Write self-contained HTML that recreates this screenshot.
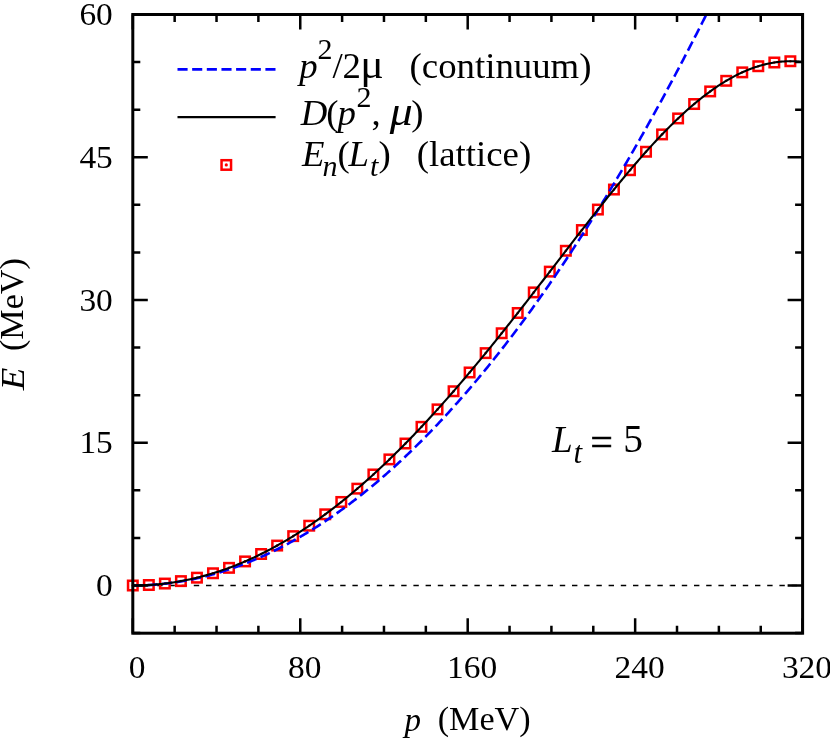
<!DOCTYPE html>
<html><head><meta charset="utf-8"><title>chart</title><style>html,body{margin:0;padding:0;background:#fff}svg{display:block;will-change:transform}</style></head><body>
<svg width="830" height="738" viewBox="0 0 830 738">
<rect x="0" y="0" width="830" height="738" fill="#fff"/>
<defs><clipPath id="cp"><rect x="132.80" y="14.50" width="669.80" height="618.70"/></clipPath></defs>
<line x1="132.80" y1="585.50" x2="802.60" y2="585.50" stroke="#000" stroke-width="1.3" stroke-dasharray="5.4 6.8"/>
<g fill="none" stroke="#f00" stroke-width="2.5"><rect x="128.05" y="580.75" width="9.5" height="9.5"/><rect x="144.09" y="580.26" width="9.5" height="9.5"/><rect x="160.13" y="578.80" width="9.5" height="9.5"/><rect x="176.17" y="576.36" width="9.5" height="9.5"/><rect x="192.20" y="572.93" width="9.5" height="9.5"/><rect x="208.24" y="568.51" width="9.5" height="9.5"/><rect x="224.28" y="563.09" width="9.5" height="9.5"/><rect x="240.32" y="556.67" width="9.5" height="9.5"/><rect x="256.36" y="549.25" width="9.5" height="9.5"/><rect x="272.40" y="540.81" width="9.5" height="9.5"/><rect x="288.43" y="531.38" width="9.5" height="9.5"/><rect x="304.47" y="520.96" width="9.5" height="9.5"/><rect x="320.51" y="509.56" width="9.5" height="9.5"/><rect x="336.55" y="497.20" width="9.5" height="9.5"/><rect x="352.59" y="483.91" width="9.5" height="9.5"/><rect x="368.63" y="469.72" width="9.5" height="9.5"/><rect x="384.66" y="454.66" width="9.5" height="9.5"/><rect x="400.70" y="438.76" width="9.5" height="9.5"/><rect x="416.74" y="422.07" width="9.5" height="9.5"/><rect x="432.78" y="404.63" width="9.5" height="9.5"/><rect x="448.82" y="386.50" width="9.5" height="9.5"/><rect x="464.86" y="367.72" width="9.5" height="9.5"/><rect x="480.89" y="348.37" width="9.5" height="9.5"/><rect x="496.93" y="328.51" width="9.5" height="9.5"/><rect x="512.97" y="308.24" width="9.5" height="9.5"/><rect x="529.01" y="287.66" width="9.5" height="9.5"/><rect x="545.05" y="266.88" width="9.5" height="9.5"/><rect x="561.09" y="246.03" width="9.5" height="9.5"/><rect x="577.13" y="225.29" width="9.5" height="9.5"/><rect x="593.16" y="204.81" width="9.5" height="9.5"/><rect x="609.20" y="184.80" width="9.5" height="9.5"/><rect x="625.24" y="165.45" width="9.5" height="9.5"/><rect x="641.28" y="147.00" width="9.5" height="9.5"/><rect x="657.32" y="129.67" width="9.5" height="9.5"/><rect x="673.36" y="113.69" width="9.5" height="9.5"/><rect x="689.39" y="99.28" width="9.5" height="9.5"/><rect x="705.43" y="86.67" width="9.5" height="9.5"/><rect x="721.47" y="76.06" width="9.5" height="9.5"/><rect x="737.51" y="67.61" width="9.5" height="9.5"/><rect x="753.55" y="61.47" width="9.5" height="9.5"/><rect x="769.59" y="57.74" width="9.5" height="9.5"/><rect x="785.62" y="56.49" width="9.5" height="9.5"/></g>
<g fill="#f00"><circle cx="132.80" cy="585.50" r="1.3"/><circle cx="148.84" cy="585.01" r="1.3"/><circle cx="164.88" cy="583.55" r="1.3"/><circle cx="180.92" cy="581.11" r="1.3"/><circle cx="196.95" cy="577.68" r="1.3"/><circle cx="212.99" cy="573.26" r="1.3"/><circle cx="229.03" cy="567.84" r="1.3"/><circle cx="245.07" cy="561.42" r="1.3"/><circle cx="261.11" cy="554.00" r="1.3"/><circle cx="277.15" cy="545.56" r="1.3"/><circle cx="293.18" cy="536.13" r="1.3"/><circle cx="309.22" cy="525.71" r="1.3"/><circle cx="325.26" cy="514.31" r="1.3"/><circle cx="341.30" cy="501.95" r="1.3"/><circle cx="357.34" cy="488.66" r="1.3"/><circle cx="373.38" cy="474.47" r="1.3"/><circle cx="389.41" cy="459.41" r="1.3"/><circle cx="405.45" cy="443.51" r="1.3"/><circle cx="421.49" cy="426.82" r="1.3"/><circle cx="437.53" cy="409.38" r="1.3"/><circle cx="453.57" cy="391.25" r="1.3"/><circle cx="469.61" cy="372.47" r="1.3"/><circle cx="485.64" cy="353.12" r="1.3"/><circle cx="501.68" cy="333.26" r="1.3"/><circle cx="517.72" cy="312.99" r="1.3"/><circle cx="533.76" cy="292.41" r="1.3"/><circle cx="549.80" cy="271.63" r="1.3"/><circle cx="565.84" cy="250.78" r="1.3"/><circle cx="581.88" cy="230.04" r="1.3"/><circle cx="597.91" cy="209.56" r="1.3"/><circle cx="613.95" cy="189.55" r="1.3"/><circle cx="629.99" cy="170.20" r="1.3"/><circle cx="646.03" cy="151.75" r="1.3"/><circle cx="662.07" cy="134.42" r="1.3"/><circle cx="678.11" cy="118.44" r="1.3"/><circle cx="694.14" cy="104.03" r="1.3"/><circle cx="710.18" cy="91.42" r="1.3"/><circle cx="726.22" cy="80.81" r="1.3"/><circle cx="742.26" cy="72.36" r="1.3"/><circle cx="758.30" cy="66.22" r="1.3"/><circle cx="774.34" cy="62.49" r="1.3"/><circle cx="790.37" cy="61.24" r="1.3"/></g>
<path d="M132.80 585.50 L134.30 585.50 L135.79 585.48 L137.29 585.47 L138.78 585.44 L140.28 585.40 L141.77 585.36 L143.27 585.31 L144.76 585.25 L146.26 585.19 L147.75 585.11 L149.25 585.03 L150.74 584.94 L152.24 584.84 L153.73 584.74 L155.23 584.63 L156.72 584.51 L158.22 584.38 L159.71 584.24 L161.21 584.10 L162.70 583.95 L164.20 583.79 L165.69 583.62 L167.19 583.45 L168.68 583.27 L170.18 583.07 L171.67 582.88 L173.17 582.67 L174.66 582.46 L176.16 582.24 L177.65 582.01 L179.15 581.77 L180.64 581.53 L182.14 581.27 L183.63 581.01 L185.13 580.75 L186.62 580.47 L188.12 580.19 L189.61 579.90 L191.11 579.60 L192.60 579.29 L194.10 578.98 L195.59 578.66 L197.09 578.33 L198.58 577.99 L200.08 577.64 L201.57 577.29 L203.07 576.93 L204.56 576.56 L206.06 576.18 L207.55 575.80 L209.05 575.41 L210.54 575.01 L212.04 574.60 L213.53 574.19 L215.03 573.76 L216.53 573.33 L218.02 572.89 L219.52 572.45 L221.01 571.99 L222.51 571.53 L224.00 571.06 L225.50 570.59 L226.99 570.10 L228.49 569.61 L229.98 569.11 L231.48 568.60 L232.97 568.08 L234.47 567.56 L235.96 567.03 L237.46 566.49 L238.95 565.94 L240.45 565.39 L241.94 564.82 L243.44 564.25 L244.93 563.67 L246.43 563.09 L247.92 562.50 L249.42 561.89 L250.91 561.28 L252.41 560.67 L253.90 560.04 L255.40 559.41 L256.89 558.77 L258.39 558.12 L259.88 557.47 L261.38 556.80 L262.87 556.13 L264.37 555.45 L265.86 554.77 L267.36 554.07 L268.85 553.37 L270.35 552.66 L271.84 551.94 L273.34 551.22 L274.83 550.48 L276.33 549.74 L277.82 548.99 L279.32 548.24 L280.81 547.47 L282.31 546.70 L283.80 545.92 L285.30 545.13 L286.79 544.34 L288.29 543.53 L289.78 542.72 L291.28 541.90 L292.77 541.08 L294.27 540.24 L295.76 539.40 L297.26 538.55 L298.75 537.69 L300.25 536.83 L301.75 535.96 L303.24 535.08 L304.74 534.19 L306.23 533.29 L307.73 532.39 L309.22 531.47 L310.72 530.56 L312.21 529.63 L313.71 528.69 L315.20 527.75 L316.70 526.80 L318.19 525.84 L319.69 524.87 L321.18 523.90 L322.68 522.92 L324.17 521.93 L325.67 520.93 L327.16 519.93 L328.66 518.92 L330.15 517.89 L331.65 516.87 L333.14 515.83 L334.64 514.79 L336.13 513.74 L337.63 512.68 L339.12 511.61 L340.62 510.53 L342.11 509.45 L343.61 508.36 L345.10 507.26 L346.60 506.16 L348.09 505.04 L349.59 503.92 L351.08 502.79 L352.58 501.66 L354.07 500.51 L355.57 499.36 L357.06 498.20 L358.56 497.03 L360.05 495.86 L361.55 494.67 L363.04 493.48 L364.54 492.28 L366.03 491.08 L367.53 489.86 L369.02 488.64 L370.52 487.41 L372.01 486.17 L373.51 484.93 L375.00 483.67 L376.50 482.41 L377.99 481.14 L379.49 479.87 L380.98 478.58 L382.48 477.29 L383.97 475.99 L385.47 474.68 L386.97 473.37 L388.46 472.04 L389.96 470.71 L391.45 469.38 L392.95 468.03 L394.44 466.67 L395.94 465.31 L397.43 463.94 L398.93 462.57 L400.42 461.18 L401.92 459.79 L403.41 458.39 L404.91 456.98 L406.40 455.56 L407.90 454.14 L409.39 452.71 L410.89 451.27 L412.38 449.82 L413.88 448.36 L415.37 446.90 L416.87 445.43 L418.36 443.95 L419.86 442.47 L421.35 440.97 L422.85 439.47 L424.34 437.96 L425.84 436.45 L427.33 434.92 L428.83 433.39 L430.32 431.85 L431.82 430.30 L433.31 428.74 L434.81 427.18 L436.30 425.61 L437.80 424.03 L439.29 422.44 L440.79 420.85 L442.28 419.25 L443.78 417.64 L445.27 416.02 L446.77 414.39 L448.26 412.76 L449.76 411.12 L451.25 409.47 L452.75 407.81 L454.24 406.15 L455.74 404.47 L457.23 402.79 L458.73 401.11 L460.22 399.41 L461.72 397.71 L463.21 396.00 L464.71 394.28 L466.20 392.55 L467.70 390.82 L469.20 389.07 L470.69 387.32 L472.19 385.57 L473.68 383.80 L475.18 382.03 L476.67 380.25 L478.17 378.46 L479.66 376.66 L481.16 374.86 L482.65 373.05 L484.15 371.23 L485.64 369.40 L487.14 367.56 L488.63 365.72 L490.13 363.87 L491.62 362.01 L493.12 360.15 L494.61 358.27 L496.11 356.39 L497.60 354.50 L499.10 352.60 L500.59 350.70 L502.09 348.78 L503.58 346.86 L505.08 344.94 L506.57 343.00 L508.07 341.06 L509.56 339.10 L511.06 337.14 L512.55 335.18 L514.05 333.20 L515.54 331.22 L517.04 329.23 L518.53 327.23 L520.03 325.23 L521.52 323.21 L523.02 321.19 L524.51 319.16 L526.01 317.12 L527.50 315.08 L529.00 313.03 L530.49 310.97 L531.99 308.90 L533.48 306.82 L534.98 304.74 L536.47 302.65 L537.97 300.55 L539.46 298.44 L540.96 296.33 L542.45 294.20 L543.95 292.07 L545.44 289.94 L546.94 287.79 L548.43 285.64 L549.93 283.48 L551.42 281.31 L552.92 279.13 L554.42 276.95 L555.91 274.75 L557.41 272.55 L558.90 270.35 L560.40 268.13 L561.89 265.91 L563.39 263.68 L564.88 261.44 L566.38 259.19 L567.87 256.94 L569.37 254.67 L570.86 252.41 L572.36 250.13 L573.85 247.84 L575.35 245.55 L576.84 243.25 L578.34 240.94 L579.83 238.62 L581.33 236.30 L582.82 233.97 L584.32 231.63 L585.81 229.28 L587.31 226.93 L588.80 224.56 L590.30 222.19 L591.79 219.81 L593.29 217.43 L594.78 215.03 L596.28 212.63 L597.77 210.22 L599.27 207.80 L600.76 205.38 L602.26 202.95 L603.75 200.51 L605.25 198.06 L606.74 195.60 L608.24 193.14 L609.73 190.67 L611.23 188.19 L612.72 185.70 L614.22 183.21 L615.71 180.70 L617.21 178.19 L618.70 175.67 L620.20 173.15 L621.69 170.61 L623.19 168.07 L624.68 165.52 L626.18 162.97 L627.67 160.40 L629.17 157.83 L630.66 155.25 L632.16 152.66 L633.65 150.07 L635.15 147.46 L636.65 144.85 L638.14 142.23 L639.64 139.61 L641.13 136.97 L642.63 134.33 L644.12 131.68 L645.62 129.02 L647.11 126.36 L648.61 123.68 L650.10 121.00 L651.60 118.31 L653.09 115.62 L654.59 112.91 L656.08 110.20 L657.58 107.48 L659.07 104.75 L660.57 102.02 L662.06 99.27 L663.56 96.52 L665.05 93.76 L666.55 91.00 L668.04 88.22 L669.54 85.44 L671.03 82.65 L672.53 79.85 L674.02 77.05 L675.52 74.24 L677.01 71.41 L678.51 68.59 L680.00 65.75 L681.50 62.91 L682.99 60.05 L684.49 57.19 L685.98 54.33 L687.48 51.45 L688.97 48.57 L690.47 45.68 L691.96 42.78 L693.46 39.87 L694.95 36.96 L696.45 34.04 L697.94 31.11 L699.44 28.17 L700.93 25.23 L702.43 22.27 L703.92 19.31 L705.42 16.35 L706.91 13.37 L708.41 10.39 L709.90 7.39 L711.40 4.40 L712.89 1.39 L714.39 -1.63 L715.88 -4.65 L717.38 -7.68 L718.88 -10.72 L720.37 -13.76 L721.87 -16.82 L723.36 -19.88 L724.86 -22.95 L726.35 -26.02 L727.85 -29.11 L729.34 -32.20" fill="none" stroke="#00f" stroke-width="2.6" stroke-dasharray="10.1 4.55" clip-path="url(#cp)"/>
<path d="M132.80 585.50 L134.14 585.50 L135.48 585.49 L136.83 585.47 L138.17 585.45 L139.51 585.41 L140.85 585.38 L142.20 585.33 L143.54 585.28 L144.88 585.22 L146.22 585.16 L147.57 585.09 L148.91 585.01 L150.25 584.92 L151.59 584.83 L152.93 584.73 L154.28 584.63 L155.62 584.51 L156.96 584.39 L158.30 584.27 L159.65 584.13 L160.99 583.99 L162.33 583.85 L163.67 583.69 L165.01 583.53 L166.36 583.37 L167.70 583.19 L169.04 583.01 L170.38 582.82 L171.73 582.63 L173.07 582.42 L174.41 582.22 L175.75 582.00 L177.10 581.78 L178.44 581.55 L179.78 581.31 L181.12 581.07 L182.46 580.82 L183.81 580.56 L185.15 580.30 L186.49 580.03 L187.83 579.75 L189.18 579.46 L190.52 579.17 L191.86 578.87 L193.20 578.57 L194.55 578.26 L195.89 577.94 L197.23 577.61 L198.57 577.28 L199.91 576.94 L201.26 576.59 L202.60 576.24 L203.94 575.88 L205.28 575.51 L206.63 575.13 L207.97 574.75 L209.31 574.36 L210.65 573.97 L211.99 573.56 L213.34 573.15 L214.68 572.74 L216.02 572.31 L217.36 571.88 L218.71 571.44 L220.05 571.00 L221.39 570.55 L222.73 570.09 L224.08 569.62 L225.42 569.15 L226.76 568.67 L228.10 568.18 L229.44 567.69 L230.79 567.19 L232.13 566.68 L233.47 566.17 L234.81 565.64 L236.16 565.11 L237.50 564.58 L238.84 564.03 L240.18 563.48 L241.53 562.93 L242.87 562.36 L244.21 561.79 L245.55 561.21 L246.89 560.63 L248.24 560.04 L249.58 559.44 L250.92 558.83 L252.26 558.22 L253.61 557.59 L254.95 556.97 L256.29 556.33 L257.63 555.69 L258.97 555.04 L260.32 554.39 L261.66 553.72 L263.00 553.05 L264.34 552.38 L265.69 551.69 L267.03 551.00 L268.37 550.30 L269.71 549.60 L271.06 548.88 L272.40 548.17 L273.74 547.44 L275.08 546.71 L276.42 545.97 L277.77 545.22 L279.11 544.46 L280.45 543.70 L281.79 542.93 L283.14 542.16 L284.48 541.38 L285.82 540.59 L287.16 539.79 L288.51 538.99 L289.85 538.18 L291.19 537.36 L292.53 536.54 L293.87 535.70 L295.22 534.87 L296.56 534.02 L297.90 533.17 L299.24 532.31 L300.59 531.45 L301.93 530.57 L303.27 529.69 L304.61 528.81 L305.95 527.91 L307.30 527.01 L308.64 526.11 L309.98 525.19 L311.32 524.27 L312.67 523.34 L314.01 522.41 L315.35 521.47 L316.69 520.52 L318.04 519.57 L319.38 518.60 L320.72 517.64 L322.06 516.66 L323.40 515.68 L324.75 514.69 L326.09 513.70 L327.43 512.69 L328.77 511.68 L330.12 510.67 L331.46 509.65 L332.80 508.62 L334.14 507.58 L335.48 506.54 L336.83 505.49 L338.17 504.44 L339.51 503.38 L340.85 502.31 L342.20 501.23 L343.54 500.15 L344.88 499.07 L346.22 497.97 L347.57 496.87 L348.91 495.76 L350.25 494.65 L351.59 493.53 L352.93 492.40 L354.28 491.27 L355.62 490.13 L356.96 488.99 L358.30 487.83 L359.65 486.68 L360.99 485.51 L362.33 484.34 L363.67 483.16 L365.02 481.98 L366.36 480.79 L367.70 479.60 L369.04 478.39 L370.38 477.19 L371.73 475.97 L373.07 474.75 L374.41 473.52 L375.75 472.29 L377.10 471.05 L378.44 469.81 L379.78 468.56 L381.12 467.30 L382.46 466.04 L383.81 464.77 L385.15 463.50 L386.49 462.22 L387.83 460.93 L389.18 459.64 L390.52 458.34 L391.86 457.04 L393.20 455.73 L394.55 454.41 L395.89 453.09 L397.23 451.76 L398.57 450.43 L399.91 449.09 L401.26 447.75 L402.60 446.40 L403.94 445.04 L405.28 443.68 L406.63 442.32 L407.97 440.94 L409.31 439.57 L410.65 438.18 L412.00 436.80 L413.34 435.40 L414.68 434.00 L416.02 432.60 L417.36 431.19 L418.71 429.77 L420.05 428.35 L421.39 426.93 L422.73 425.50 L424.08 424.06 L425.42 422.62 L426.76 421.17 L428.10 419.72 L429.44 418.26 L430.79 416.80 L432.13 415.33 L433.47 413.86 L434.81 412.39 L436.16 410.90 L437.50 409.42 L438.84 407.92 L440.18 406.43 L441.53 404.93 L442.87 403.42 L444.21 401.91 L445.55 400.39 L446.89 398.87 L448.24 397.35 L449.58 395.82 L450.92 394.28 L452.26 392.75 L453.61 391.20 L454.95 389.65 L456.29 388.10 L457.63 386.55 L458.98 384.98 L460.32 383.42 L461.66 381.85 L463.00 380.28 L464.34 378.70 L465.69 377.11 L467.03 375.53 L468.37 373.94 L469.71 372.34 L471.06 370.74 L472.40 369.14 L473.74 367.53 L475.08 365.92 L476.42 364.31 L477.77 362.69 L479.11 361.07 L480.45 359.44 L481.79 357.81 L483.14 356.18 L484.48 354.54 L485.82 352.90 L487.16 351.26 L488.51 349.61 L489.85 347.96 L491.19 346.30 L492.53 344.65 L493.87 342.99 L495.22 341.32 L496.56 339.65 L497.90 337.98 L499.24 336.31 L500.59 334.63 L501.93 332.95 L503.27 331.27 L504.61 329.59 L505.96 327.90 L507.30 326.21 L508.64 324.51 L509.98 322.82 L511.32 321.12 L512.67 319.42 L514.01 317.72 L515.35 316.01 L516.69 314.30 L518.04 312.59 L519.38 310.88 L520.72 309.16 L522.06 307.45 L523.40 305.73 L524.75 304.01 L526.09 302.28 L527.43 300.56 L528.77 298.83 L530.12 297.10 L531.46 295.38 L532.80 293.64 L534.14 291.91 L535.49 290.18 L536.83 288.44 L538.17 286.71 L539.51 284.97 L540.85 283.23 L542.20 281.49 L543.54 279.75 L544.88 278.01 L546.22 276.27 L547.57 274.53 L548.91 272.78 L550.25 271.04 L551.59 269.29 L552.94 267.55 L554.28 265.81 L555.62 264.06 L556.96 262.32 L558.30 260.57 L559.65 258.83 L560.99 257.08 L562.33 255.34 L563.67 253.59 L565.02 251.85 L566.36 250.11 L567.70 248.37 L569.04 246.63 L570.38 244.89 L571.73 243.15 L573.07 241.41 L574.41 239.67 L575.75 237.94 L577.10 236.20 L578.44 234.47 L579.78 232.74 L581.12 231.01 L582.47 229.28 L583.81 227.55 L585.15 225.83 L586.49 224.11 L587.83 222.39 L589.18 220.67 L590.52 218.96 L591.86 217.25 L593.20 215.54 L594.55 213.83 L595.89 212.13 L597.23 210.43 L598.57 208.73 L599.92 207.04 L601.26 205.35 L602.60 203.66 L603.94 201.98 L605.28 200.30 L606.63 198.62 L607.97 196.95 L609.31 195.28 L610.65 193.62 L612.00 191.96 L613.34 190.30 L614.68 188.65 L616.02 187.01 L617.36 185.37 L618.71 183.73 L620.05 182.10 L621.39 180.48 L622.73 178.86 L624.08 177.25 L625.42 175.64 L626.76 174.04 L628.10 172.44 L629.45 170.85 L630.79 169.26 L632.13 167.69 L633.47 166.11 L634.81 164.55 L636.16 162.99 L637.50 161.44 L638.84 159.90 L640.18 158.36 L641.53 156.83 L642.87 155.31 L644.21 153.79 L645.55 152.28 L646.89 150.78 L648.24 149.29 L649.58 147.81 L650.92 146.33 L652.26 144.87 L653.61 143.41 L654.95 141.96 L656.29 140.52 L657.63 139.08 L658.98 137.66 L660.32 136.25 L661.66 134.84 L663.00 133.45 L664.34 132.06 L665.69 130.68 L667.03 129.32 L668.37 127.96 L669.71 126.62 L671.06 125.28 L672.40 123.95 L673.74 122.64 L675.08 121.33 L676.43 120.04 L677.77 118.76 L679.11 117.49 L680.45 116.23 L681.79 114.98 L683.14 113.74 L684.48 112.51 L685.82 111.30 L687.16 110.09 L688.51 108.90 L689.85 107.72 L691.19 106.56 L692.53 105.40 L693.87 104.26 L695.22 103.13 L696.56 102.01 L697.90 100.91 L699.24 99.82 L700.59 98.74 L701.93 97.68 L703.27 96.63 L704.61 95.59 L705.96 94.56 L707.30 93.55 L708.64 92.55 L709.98 91.57 L711.32 90.60 L712.67 89.65 L714.01 88.70 L715.35 87.78 L716.69 86.86 L718.04 85.97 L719.38 85.08 L720.72 84.21 L722.06 83.36 L723.41 82.52 L724.75 81.70 L726.09 80.89 L727.43 80.09 L728.77 79.31 L730.12 78.55 L731.46 77.80 L732.80 77.07 L734.14 76.35 L735.49 75.65 L736.83 74.97 L738.17 74.30 L739.51 73.65 L740.85 73.01 L742.20 72.39 L743.54 71.78 L744.88 71.19 L746.22 70.62 L747.57 70.07 L748.91 69.53 L750.25 69.00 L751.59 68.50 L752.94 68.01 L754.28 67.53 L755.62 67.08 L756.96 66.64 L758.30 66.22 L759.65 65.81 L760.99 65.42 L762.33 65.05 L763.67 64.69 L765.02 64.36 L766.36 64.04 L767.70 63.73 L769.04 63.45 L770.39 63.18 L771.73 62.93 L773.07 62.69 L774.41 62.48 L775.75 62.28 L777.10 62.10 L778.44 61.93 L779.78 61.78 L781.12 61.66 L782.47 61.54 L783.81 61.45 L785.15 61.37 L786.49 61.31 L787.83 61.27 L789.18 61.25 L790.52 61.24 L791.86 61.25 L793.20 61.28 L794.55 61.32 L795.89 61.39 L797.23 61.47 L798.57 61.57 L799.92 61.68 L801.26 61.82 L802.60 61.97" fill="none" stroke="#000" stroke-width="2.1" clip-path="url(#cp)"/>
<path d="M132.80 633.20 v-15.00 M132.80 14.50 v15.00 M174.66 633.20 v-7.50 M174.66 14.50 v7.50 M216.53 633.20 v-7.50 M216.53 14.50 v7.50 M258.39 633.20 v-7.50 M258.39 14.50 v7.50 M300.25 633.20 v-15.00 M300.25 14.50 v15.00 M342.11 633.20 v-7.50 M342.11 14.50 v7.50 M383.97 633.20 v-7.50 M383.97 14.50 v7.50 M425.84 633.20 v-7.50 M425.84 14.50 v7.50 M467.70 633.20 v-15.00 M467.70 14.50 v15.00 M509.56 633.20 v-7.50 M509.56 14.50 v7.50 M551.42 633.20 v-7.50 M551.42 14.50 v7.50 M593.29 633.20 v-7.50 M593.29 14.50 v7.50 M635.15 633.20 v-15.00 M635.15 14.50 v15.00 M677.01 633.20 v-7.50 M677.01 14.50 v7.50 M718.88 633.20 v-7.50 M718.88 14.50 v7.50 M760.74 633.20 v-7.50 M760.74 14.50 v7.50 M802.60 633.20 v-15.00 M802.60 14.50 v15.00 M132.80 633.08 h7.50 M802.60 633.08 h-7.50 M132.80 585.50 h15.00 M802.60 585.50 h-15.00 M132.80 537.92 h7.50 M802.60 537.92 h-7.50 M132.80 490.33 h7.50 M802.60 490.33 h-7.50 M132.80 442.75 h15.00 M802.60 442.75 h-15.00 M132.80 395.17 h7.50 M802.60 395.17 h-7.50 M132.80 347.58 h7.50 M802.60 347.58 h-7.50 M132.80 300.00 h15.00 M802.60 300.00 h-15.00 M132.80 252.42 h7.50 M802.60 252.42 h-7.50 M132.80 204.83 h7.50 M802.60 204.83 h-7.50 M132.80 157.25 h15.00 M802.60 157.25 h-15.00 M132.80 109.67 h7.50 M802.60 109.67 h-7.50 M132.80 62.08 h7.50 M802.60 62.08 h-7.50 M132.80 14.50 h15.00 M802.60 14.50 h-15.00" stroke="#000" stroke-width="2.50" fill="none"/>
<rect x="132.80" y="14.50" width="669.80" height="618.70" fill="none" stroke="#000" stroke-width="3.00"/>
<line x1="177.5" y1="69.4" x2="275.6" y2="69.4" stroke="#00f" stroke-width="2.6" stroke-dasharray="10.1 4.55"/>
<line x1="177.5" y1="117.1" x2="275.6" y2="117.1" stroke="#000" stroke-width="2.1"/>
<rect x="221.55" y="160.2" width="9.5" height="9.5" fill="none" stroke="#f00" stroke-width="2.5"/>
<circle cx="226.3" cy="164.95" r="1.6" fill="#f00"/>
<g font-family="'Liberation Serif', serif" fill="#000">
<text x="112.8" y="596.10" font-size="32" text-anchor="end" textLength="16.7" lengthAdjust="spacingAndGlyphs">0</text>
<text x="112.8" y="453.35" font-size="32" text-anchor="end" textLength="33.4" lengthAdjust="spacingAndGlyphs">15</text>
<text x="112.8" y="310.60" font-size="32" text-anchor="end" textLength="33.4" lengthAdjust="spacingAndGlyphs">30</text>
<text x="112.8" y="167.85" font-size="32" text-anchor="end" textLength="33.4" lengthAdjust="spacingAndGlyphs">45</text>
<text x="112.8" y="25.10" font-size="32" text-anchor="end" textLength="33.4" lengthAdjust="spacingAndGlyphs">60</text>
<text x="137.20" y="678.2" font-size="32" text-anchor="middle" textLength="16.7" lengthAdjust="spacingAndGlyphs">0</text>
<text x="304.65" y="678.2" font-size="32" text-anchor="middle" textLength="33.4" lengthAdjust="spacingAndGlyphs">80</text>
<text x="472.10" y="678.2" font-size="32" text-anchor="middle" textLength="50.2" lengthAdjust="spacingAndGlyphs">160</text>
<text x="639.55" y="678.2" font-size="32" text-anchor="middle" textLength="50.2" lengthAdjust="spacingAndGlyphs">240</text>
<text x="807.00" y="678.2" font-size="32" text-anchor="middle" textLength="50.2" lengthAdjust="spacingAndGlyphs">320</text>
<text font-size="33"><tspan x="404.4" y="730.9" font-style="italic">p</tspan><tspan x="437.7" y="729.8" textLength="93" lengthAdjust="spacingAndGlyphs">(MeV)</tspan></text>
<text transform="translate(23.4 390) rotate(-90)" font-size="33"><tspan x="-0.2" y="0.9" font-style="italic" font-size="34.5" textLength="22.6" lengthAdjust="spacingAndGlyphs">E</tspan><tspan x="38.9" y="0" textLength="93" lengthAdjust="spacingAndGlyphs">(MeV)</tspan></text>
<text font-size="36.8"><tspan x="299.2" y="77.7" font-style="italic">p</tspan><tspan x="317.4" y="59.3" font-size="30">2</tspan><tspan x="332.5" y="77.7" >/</tspan><tspan x="342.4" y="77.7" >2</tspan><tspan x="360.2" y="77.7" font-size="40" textLength="23.5" lengthAdjust="spacingAndGlyphs">μ</tspan><tspan x="409.6" y="77.7" >(continuum)</tspan></text>
<text font-size="36.8"><tspan x="300.7" y="125.4" font-style="italic">D</tspan><tspan x="326.3" y="125.4" >(</tspan><tspan x="337.5" y="125.4" font-style="italic">p</tspan><tspan x="356.6" y="106.8" font-size="30">2</tspan><tspan x="371.6" y="125.4" >,</tspan><tspan x="389.7" y="125.4" font-style="italic" font-size="40" textLength="23" lengthAdjust="spacingAndGlyphs">μ</tspan><tspan x="411.3" y="125.4" >)</tspan></text>
<text font-size="36.8"><tspan x="302.0" y="165.9" font-style="italic">E</tspan><tspan x="322.4" y="175.9" font-style="italic" font-size="30">n</tspan><tspan x="337.4" y="165.9" >(</tspan><tspan x="348.4" y="165.9" font-style="italic">L</tspan><tspan x="370.1" y="175.9" font-style="italic" font-size="30">t</tspan><tspan x="378.4" y="165.9" >)</tspan><tspan x="416.8" y="165.9" >(lattice)</tspan></text>
<text font-size="39.5"><tspan x="552.0" y="452.0" font-style="italic" font-size="37.2">L</tspan><tspan x="573.5" y="463.3" font-style="italic" font-size="31">t</tspan><tspan x="590.5" y="455.6" stroke="#000" stroke-width="0.7">=</tspan><tspan x="623.3" y="452.0" >5</tspan></text>
</g>
</svg>
</body></html>
